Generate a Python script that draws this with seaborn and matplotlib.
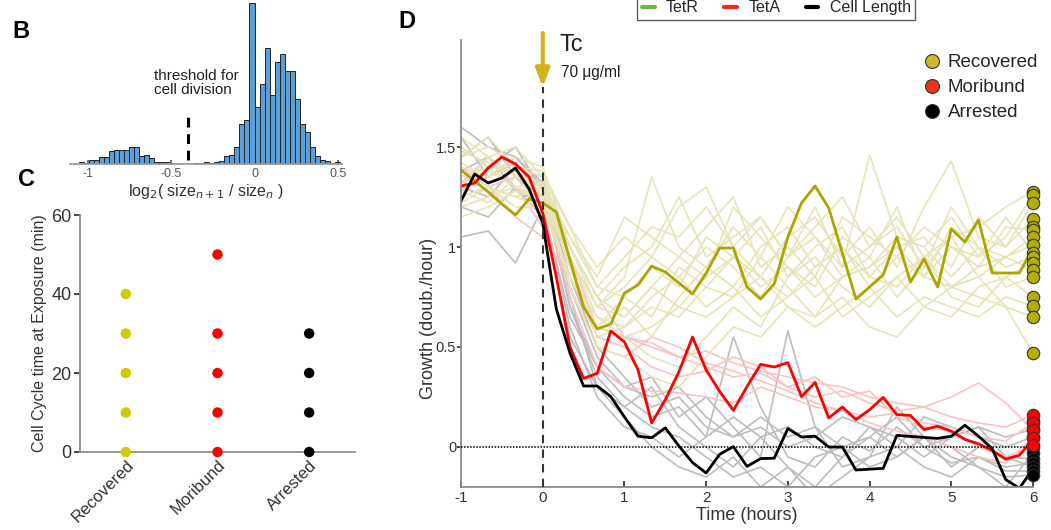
import numpy as np
import pandas as pd
import seaborn as sns
import matplotlib.pyplot as plt
from matplotlib.lines import Line2D

# ---------------- data ----------------
# panel B: histogram of log2(size_n+1 / size_n), bins of 0.03 from -1.11 to 0.51
hist_edges = np.round(np.arange(-37, 18) * 0.03, 2)
hist_heights = [0.3, 0.3, 1.2, 0.6, 2.3, 2.3, 4.3, 4.3, 8.1, 8.7, 8.9, 8.7, 10.4, 10.8,
                5.2, 5.4, 3.5, 1.4, 1.4, 1.0, 0.4, 0.2, 0.0, 0.0, 0.3, 0.4, 0.4, 1.0,
                0.6, 1.0, 1.7, 4.8, 5.8, 10.4, 25.0, 27.1, 100.0, 35.2, 49.7, 72.0,
                42.6, 63.1, 68.5, 57.6, 58.0, 40.6, 24.8, 19.7, 10.4, 4.8, 2.7, 1.7,
                0.6, 1.0]
threshold = -0.4

# panel C: cell cycle time at exposure (min)
fates = ["Recovered", "Moribund", "Arrested"]
cc_recovered = [0, 10, 20, 30, 40]
cc_moribund = [0, 10, 20, 30, 50]
cc_arrested = [0, 10, 20, 30]

# panel D: growth rate traces (doub./hour)
t_fine = np.arange(-6, 37) / 6          # every 10 min, -1 .. 6 h
t_coarse = np.arange(-3, 19) / 3        # every 20 min for the faint traces

bold_recovered = [1.385, 1.33, 1.275, 1.215, 1.16, 1.24, 1.22, 1.175, 0.935, 0.70, 0.59,
                  0.615, 0.77, 0.81, 0.905, 0.875, 0.82, 0.765, 0.87, 0.995, 0.995, 0.80,
                  0.74, 0.815, 1.05, 1.22, 1.305, 1.195, 0.97, 0.74, 0.80, 0.86, 1.05,
                  0.825, 0.94, 0.80, 1.09, 1.025, 1.135, 0.87, 0.87, 0.87, 0.995]
bold_moribund = [1.305, 1.32, 1.395, 1.45, 1.415, 1.35, 1.17, 0.85, 0.50, 0.343, 0.368,
                 0.58, 0.525, 0.385, 0.12, 0.236, 0.376, 0.55, 0.385, 0.277, 0.183, 0.302,
                 0.413, 0.40, 0.422, 0.252, 0.323, 0.145, 0.20, 0.137, 0.186, 0.248,
                 0.162, 0.158, 0.087, 0.104, 0.079, 0.038, 0.016, -0.017, -0.061, -0.041,
                 0.038]
bold_arrested = [1.23, 1.365, 1.32, 1.345, 1.395, 1.29, 1.12, 0.69, 0.47, 0.305, 0.305,
                 0.252, 0.15, 0.054, 0.046, 0.096, 0.005, -0.078, -0.13, -0.036, 0.002,
                 -0.097, -0.058, -0.056, 0.092, 0.05, 0.054, 0.0, 0.0, -0.115, -0.111,
                 -0.107, 0.058, 0.053, 0.048, 0.043, 0.054, 0.109, 0.054, -0.008, -0.163,
                 -0.206, -0.11]

faint_recovered = [
    [1.45, 1.50, 1.42, 1.30, 1.05, 0.80, 0.95, 1.10, 1.05, 1.20, 1.00, 1.15, 0.95, 1.10, 1.25, 1.00, 1.15, 0.95, 1.05, 1.10, 1.20, 1.28],
    [1.35, 1.40, 1.38, 1.25, 0.95, 0.70, 0.85, 1.35, 1.00, 0.90, 1.10, 0.95, 1.20, 1.05, 0.90, 1.46, 1.05, 1.00, 1.15, 0.95, 1.05, 1.26],
    [1.55, 1.45, 1.50, 1.35, 1.10, 0.90, 1.05, 0.95, 1.20, 1.30, 1.00, 0.85, 1.05, 1.15, 0.95, 1.10, 0.90, 1.20, 1.43, 1.05, 1.00, 1.22],
    [1.25, 1.30, 1.20, 1.20, 0.85, 0.60, 0.75, 0.90, 0.80, 1.05, 0.95, 1.10, 0.85, 1.00, 1.10, 0.85, 1.00, 1.05, 0.90, 1.15, 1.00, 1.14],
    [1.40, 1.35, 1.45, 1.40, 1.00, 0.75, 0.65, 0.80, 0.95, 0.85, 1.20, 1.05, 0.90, 0.80, 1.05, 0.95, 1.20, 0.85, 1.00, 0.90, 1.10, 1.085],
    [1.30, 1.45, 1.35, 1.28, 0.90, 0.55, 0.60, 0.70, 0.65, 0.80, 0.75, 0.95, 0.80, 0.65, 0.85, 0.95, 0.75, 0.90, 1.05, 0.85, 0.95, 1.05],
    [1.20, 1.25, 1.30, 1.22, 0.95, 0.65, 0.55, 0.45, 0.40, 0.55, 0.70, 0.60, 0.85, 0.95, 0.80, 0.70, 0.85, 0.95, 0.80, 0.90, 0.95, 1.01],
    [1.50, 1.40, 1.30, 1.32, 1.05, 0.85, 1.15, 1.05, 0.95, 1.10, 1.25, 0.90, 1.00, 0.85, 1.15, 1.05, 0.95, 1.10, 1.00, 0.95, 1.15, 0.97],
    [1.38, 1.30, 1.25, 1.30, 0.90, 0.60, 0.70, 0.55, 0.75, 0.90, 0.80, 1.00, 1.10, 0.90, 1.00, 0.80, 0.95, 0.85, 1.10, 1.00, 0.90, 0.95],
    [1.15, 1.20, 1.28, 1.25, 0.80, 0.50, 0.45, 0.35, 0.30, 0.45, 0.60, 0.55, 0.70, 0.65, 0.75, 0.60, 0.55, 0.70, 0.65, 0.80, 0.85, 0.92],
    [1.45, 1.55, 1.40, 1.35, 1.00, 0.75, 0.90, 1.00, 1.25, 0.95, 1.05, 1.15, 0.95, 1.20, 0.90, 1.00, 1.10, 0.90, 1.20, 1.00, 0.95, 0.885],
    [1.28, 1.22, 1.35, 1.30, 0.95, 0.70, 0.80, 0.95, 0.85, 1.00, 0.90, 0.75, 0.95, 1.05, 0.85, 0.90, 1.05, 1.00, 0.85, 1.00, 0.80, 0.85],
    [1.42, 1.35, 1.40, 1.38, 1.10, 0.80, 0.75, 0.65, 0.90, 0.80, 0.95, 0.85, 0.75, 0.90, 1.00, 0.85, 0.80, 0.95, 0.75, 0.70, 0.85, 0.75],
    [1.32, 1.38, 1.30, 1.25, 0.85, 0.60, 0.55, 0.60, 0.70, 0.65, 0.75, 0.85, 0.70, 0.60, 0.70, 0.80, 0.65, 0.75, 0.70, 0.65, 0.75, 0.705],
    [1.22, 1.30, 1.25, 1.20, 0.85, 0.65, 0.60, 0.75, 0.85, 0.70, 0.80, 0.65, 0.75, 0.85, 0.65, 0.75, 0.85, 0.70, 0.80, 0.75, 0.70, 0.65],
    [1.48, 1.42, 1.36, 1.30, 1.00, 0.70, 0.65, 0.80, 0.70, 0.85, 0.95, 0.80, 0.90, 0.75, 0.85, 0.90, 1.00, 0.85, 0.80, 0.85, 0.70, 0.47],
]
faint_moribund = [
    [1.35, 1.40, 1.38, 1.30, 0.95, 0.60, 0.55, 0.50, 0.45, 0.48, 0.42, 0.38, 0.35, 0.32, 0.30, 0.25, 0.22, 0.20, 0.15, 0.12, 0.10, 0.16],
    [1.28, 1.35, 1.42, 1.25, 0.75, 0.40, 0.30, 0.28, 0.27, 0.25, 0.22, 0.30, 0.25, 0.20, 0.18, 0.15, 0.17, 0.12, 0.10, 0.05, 0.03, 0.12],
    [1.40, 1.30, 1.35, 1.20, 1.00, 0.75, 0.55, 0.52, 0.45, 0.40, 0.35, 0.37, 0.30, 0.25, 0.28, 0.22, 0.18, 0.20, 0.25, 0.32, 0.22, 0.085],
    [1.32, 1.45, 1.30, 1.10, 0.80, 0.50, 0.45, 0.55, 0.50, 0.42, 0.38, 0.33, 0.28, 0.22, 0.18, 0.12, 0.08, 0.05, 0.00, -0.05, -0.08, 0.05],
    [1.25, 1.30, 1.15, 1.05, 0.85, 0.55, 0.50, 0.40, 0.35, 0.38, 0.45, 0.40, 0.30, 0.35, 0.25, 0.28, 0.15, 0.10, 0.08, 0.00, -0.05, 0.00],
]
faint_arrested = [
    [1.60, 1.50, 1.45, 1.30, 0.70, 0.35, 0.20, 0.10, 0.05, -0.05, -0.15, -0.10, -0.20, -0.05, 0.00, -0.10, -0.05, 0.05, -0.05, -0.10, -0.15, -0.14],
    [1.05, 1.08, 0.92, 1.20, 0.65, 0.40, 0.25, 0.15, 0.20, 0.05, 0.55, 0.20, -0.05, -0.10, 0.05, -0.02, 0.10, 0.00, -0.08, -0.05, -0.12, -0.12],
    [1.45, 1.55, 1.35, 1.25, 0.80, 0.45, 0.30, 0.35, 0.15, 0.25, 0.10, -0.05, 0.58, 0.10, -0.10, -0.05, 0.20, 0.05, -0.10, 0.00, -0.05, -0.10],
    [1.30, 1.25, 1.40, 1.35, 0.75, 0.30, 0.15, 0.00, -0.10, -0.15, -0.05, -0.20, -0.10, -0.25, -0.15, -0.05, 0.00, -0.10, -0.15, -0.05, -0.10, -0.08],
    [1.50, 1.40, 1.50, 1.28, 0.70, 0.40, 0.30, 0.25, 0.30, 0.15, 0.05, 0.10, 0.00, 0.05, 0.15, 0.10, 0.05, -0.05, 0.05, 0.10, -0.05, -0.06],
    [1.38, 1.45, 1.28, 1.22, 0.60, 0.25, 0.10, 0.05, -0.05, 0.05, 0.15, 0.05, -0.10, -0.20, -0.05, 0.05, -0.05, 0.05, 0.00, -0.10, -0.20, -0.03],
    [1.20, 1.15, 1.30, 1.15, 0.55, 0.30, 0.20, 0.30, 0.10, 0.00, -0.10, 0.05, 0.10, 0.00, -0.05, 0.10, 0.00, 0.15, 0.10, 0.05, 0.00, 0.05],
    [1.55, 1.35, 1.45, 1.32, 0.85, 0.50, 0.35, 0.20, 0.25, 0.10, 0.05, 0.15, 0.05, 0.10, 0.00, 0.05, 0.15, 0.00, 0.05, 0.10, 0.05, 0.09],
]
end_recovered = [1.277, 1.26, 1.22, 1.14, 1.10, 1.085, 1.05, 1.01, 0.97, 0.95, 0.92, 0.885,
                 0.85, 0.75, 0.705, 0.65, 0.47]
end_moribund = [0.16, 0.12, 0.085, 0.045, 0.01]
end_arrested = [0.13, 0.09, 0.05, 0.0, -0.03, -0.06, -0.08, -0.10, -0.12, -0.14]

# ---------------- style ----------------
sns.set_theme(style="white")
plt.rcParams["font.family"] = ["Liberation Sans", "DejaVu Sans"]
plt.rcParams["axes.unicode_minus"] = False
plt.rcParams["axes.edgecolor"] = "#888888"
plt.rcParams["xtick.color"] = "#333333"
plt.rcParams["ytick.color"] = "#333333"

C_REC, C_MOR, C_ARR = "#aaa600", "#ff0000", "#000000"
C_REC_F, C_MOR_F, C_ARR_F = "#e6e4b8", "#f9c3c3", "#bdbdbd"

fig = plt.figure(figsize=(10.51, 5.30), dpi=100)
W, H = 1051, 530


def px_axes(l, t, r, b):
    return fig.add_axes([l / W, 1 - b / H, (r - l) / W, (b - t) / H])


# ---------------- panel B ----------------
axB = px_axes(70, 3, 342, 164)
df_b = pd.DataFrame({"ratio": (hist_edges[:-1] + hist_edges[1:]) / 2,
                     "count": hist_heights})
sns.histplot(data=df_b, x="ratio", weights="count", bins=list(hist_edges), ax=axB,
             color="#5b9fd6", edgecolor="#222222", linewidth=0.7, alpha=1)
axB.set_xlim(-1.105, 0.524)
axB.set_ylim(0, 100)
axB.plot([threshold, threshold], [2.5, 32], color="black", lw=2.2, ls=(0, (3.2, 2.2)))
axB.text(-0.6, 50, "threshold for\ncell division", fontsize=11, color="#222222",
         va="center", ha="left", linespacing=1.0)
for s in ["top", "right", "left"]:
    axB.spines[s].set_visible(False)
axB.spines["bottom"].set_color("#999999")
axB.set_yticks([])
axB.set_ylabel("")
axB.set_xticks([-1, -0.5, 0, 0.5])
axB.set_xticklabels(["-1", "-0.5", "0", "0.5"])
axB.tick_params(axis="x", direction="in", length=3, labelsize=9, pad=3,
                colors="#555555", bottom=True)
axB.set_xlabel(r"log$_2$( size$_{n+1}$ / size$_n$ )", fontsize=11.5, labelpad=1,
               color="#333333")

# ---------------- panel C ----------------
axC = px_axes(80, 215, 355, 452)
df_c = pd.DataFrame({
    "fate": ["Recovered"] * len(cc_recovered) + ["Moribund"] * len(cc_moribund)
    + ["Arrested"] * len(cc_arrested),
    "time": cc_recovered + cc_moribund + cc_arrested,
})
sns.stripplot(data=df_c, x="fate", y="time", hue="fate", order=fates, jitter=False,
              palette={"Recovered": "#cccc00", "Moribund": "#ff0000", "Arrested": "black"},
              size=7.5, linewidth=0, ax=axC, legend=False, clip_on=False)
axC.set_xlim(-0.5, 2.5)
axC.set_ylim(0, 60)
axC.set_yticks([0, 20, 40, 60])
for s in ["top", "right"]:
    axC.spines[s].set_visible(False)
axC.tick_params(axis="y", direction="out", length=4, left=True, labelsize=13, pad=2)
axC.tick_params(axis="x", length=0, labelsize=12, pad=4)
plt.setp(axC.get_xticklabels(), rotation=45, ha="right", rotation_mode="anchor")
axC.set_xlabel("")
axC.set_ylabel("Cell Cycle time at Exposure (min)", fontsize=11.5, color="#333333",
               labelpad=3)

# ---------------- panel D ----------------
axD = px_axes(461, 40, 1033, 487)
for vals in faint_arrested:
    sns.lineplot(x=t_coarse, y=vals, ax=axD, color=C_ARR_F, lw=1.2)
for vals in faint_moribund:
    sns.lineplot(x=t_coarse, y=vals, ax=axD, color=C_MOR_F, lw=1.2)
for vals in faint_recovered:
    sns.lineplot(x=t_coarse, y=vals, ax=axD, color=C_REC_F, lw=1.2)
sns.lineplot(x=t_fine, y=bold_recovered, ax=axD, color=C_REC, lw=2.0)
sns.lineplot(x=t_fine, y=bold_moribund, ax=axD, color=C_MOR, lw=2.0)
sns.lineplot(x=t_fine, y=bold_arrested, ax=axD, color=C_ARR, lw=2.0)

mk = dict(s=80, edgecolor="#333333", linewidth=0.8, clip_on=False, zorder=5)
sns.scatterplot(x=[6] * len(end_recovered), y=end_recovered, ax=axD, color="#b3ae00", **mk)
sns.scatterplot(x=[6] * len(end_arrested), y=end_arrested, ax=axD, color="black", **mk)
sns.scatterplot(x=[6] * len(end_moribund), y=end_moribund, ax=axD, color="#ff0000", **mk)

axD.axhline(0, color="black", lw=1.1, ls=(0, (1, 1)), zorder=4)
axD.plot([0, 0], [-0.2, 1.8], color="#333333", lw=1.5, ls=(0, (4, 3)), zorder=4)
axD.annotate("", xy=(0, 1.80), xytext=(0, 2.07), annotation_clip=False,
             arrowprops=dict(arrowstyle="-|>,head_width=0.35,head_length=0.9",
                             color="#d4b31e", lw=3, shrinkA=0, shrinkB=0))
axD.text(0.2, 2.01, "Tc", fontsize=17, color="#222222", va="center", ha="left")
axD.text(0.22, 1.875, "70 μg/ml", fontsize=11.2, color="#222222", va="center", ha="left")

axD.set_xlim(-1, 6)
axD.set_ylim(-0.2, 2.035)
axD.set_xticks(range(-1, 7))
axD.set_yticks([0, 0.5, 1, 1.5])
axD.set_yticklabels(["0", "0.5", "1", "1.5"])
for s in ["top", "right"]:
    axD.spines[s].set_visible(False)
axD.tick_params(axis="y", direction="out", length=3, left=True, labelsize=10.5, pad=0.5)
axD.tick_params(axis="x", direction="in", length=4, bottom=True, labelsize=11, pad=3)
axD.set_xlabel("Time (hours)", fontsize=13, color="#333333", labelpad=1.5)
axD.set_ylabel("Growth (doub./hour)", fontsize=13, color="#333333")
axD.yaxis.set_label_coords(-0.042, 0.378)

# legends
fate_handles = [Line2D([], [], ls="", marker="o", ms=10, mfc=c, mec="#333333", mew=0.8)
                for c in ["#d6b62a", "#ee3416", "black"]]
fig.legend(fate_handles, fates, loc="upper left", bbox_to_anchor=(924.5 / W, 1 - 54 / H),
           frameon=False, fontsize=13.5, handlelength=0.8, handletextpad=0.45,
           labelspacing=0.42, borderpad=0, borderaxespad=0)
rep_handles = [Line2D([], [], color=c, lw=3) for c in ["#6ab83e", "#ee2a1a", "black"]]
fig.legend(rep_handles, ["TetR", "TetA", "Cell Length"], loc="lower left",
           bbox_to_anchor=(637 / W, 1 - 20 / H), ncol=3, fontsize=11.5, frameon=True,
           fancybox=False, edgecolor="#333333", handlelength=0.8, handletextpad=0.7,
           columnspacing=1.6, borderaxespad=0, borderpad=0.3)

# panel letters
for x, y, lab in [(12, 32, "B"), (18, 180, "C"), (398, 22, "D")]:
    fig.text(x / W, 1 - y / H, lab, fontsize=17, fontweight="bold", va="center",
             ha="left", color="black")

fig.savefig("out.png", dpi=100)
